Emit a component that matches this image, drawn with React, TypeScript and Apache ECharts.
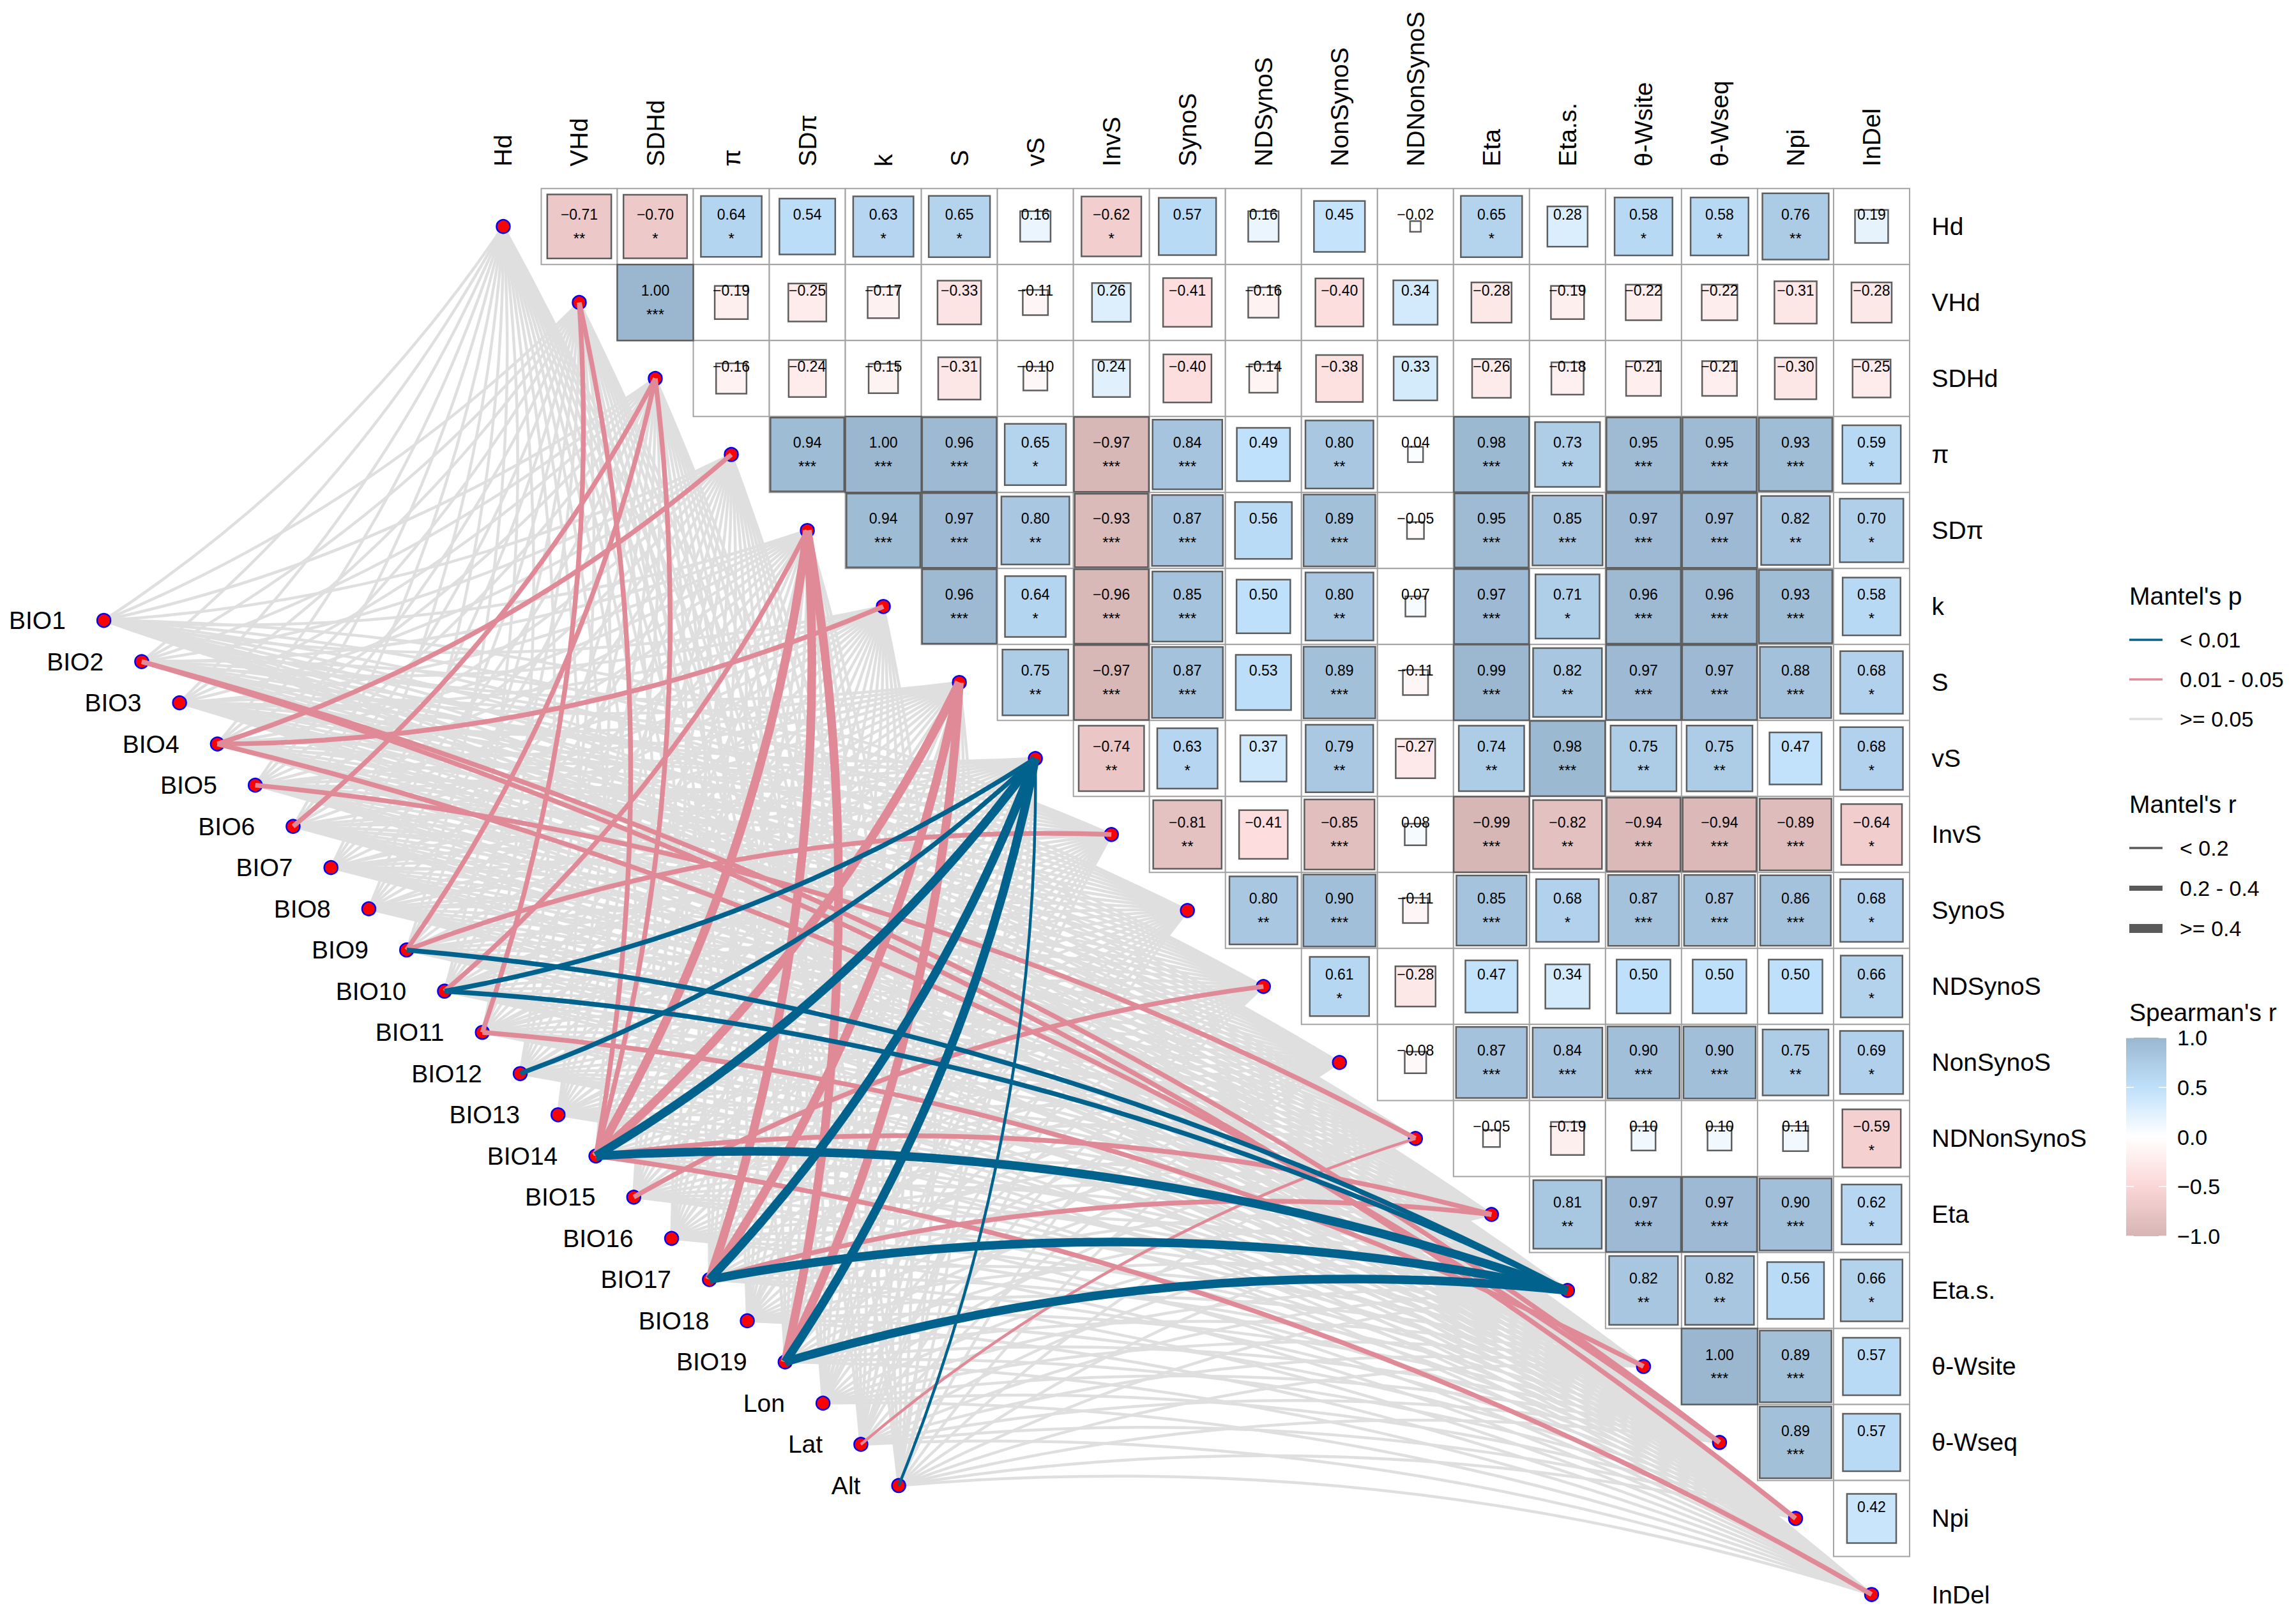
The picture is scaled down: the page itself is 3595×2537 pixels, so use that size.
import React, { useEffect, useRef } from "react";
import * as echarts from "echarts";

// ---------------- DATA ----------------
const variables = [
  "Hd", "VHd", "SDHd", "π", "SDπ", "k", "S", "vS", "InvS", "SynoS",
  "NDSynoS", "NonSynoS", "NDNonSynoS", "Eta", "Eta.s.", "θ-Wsite", "θ-Wseq", "Npi", "InDel",
];

const envVars = [
  "BIO1", "BIO2", "BIO3", "BIO4", "BIO5", "BIO6", "BIO7", "BIO8", "BIO9", "BIO10",
  "BIO11", "BIO12", "BIO13", "BIO14", "BIO15", "BIO16", "BIO17", "BIO18", "BIO19",
  "Lon", "Lat", "Alt",
];

// Spearman's r, upper triangle: row i holds columns i+1 .. 18
const corrUpper: number[][] = [
  [-0.71, -0.70, 0.64, 0.54, 0.63, 0.65, 0.16, -0.62, 0.57, 0.16, 0.45, -0.02, 0.65, 0.28, 0.58, 0.58, 0.76, 0.19],
  [1.00, -0.19, -0.25, -0.17, -0.33, -0.11, 0.26, -0.41, -0.16, -0.40, 0.34, -0.28, -0.19, -0.22, -0.22, -0.31, -0.28],
  [-0.16, -0.24, -0.15, -0.31, -0.10, 0.24, -0.40, -0.14, -0.38, 0.33, -0.26, -0.18, -0.21, -0.21, -0.30, -0.25],
  [0.94, 1.00, 0.96, 0.65, -0.97, 0.84, 0.49, 0.80, 0.04, 0.98, 0.73, 0.95, 0.95, 0.93, 0.59],
  [0.94, 0.97, 0.80, -0.93, 0.87, 0.56, 0.89, -0.05, 0.95, 0.85, 0.97, 0.97, 0.82, 0.70],
  [0.96, 0.64, -0.96, 0.85, 0.50, 0.80, 0.07, 0.97, 0.71, 0.96, 0.96, 0.93, 0.58],
  [0.75, -0.97, 0.87, 0.53, 0.89, -0.11, 0.99, 0.82, 0.97, 0.97, 0.88, 0.68],
  [-0.74, 0.63, 0.37, 0.79, -0.27, 0.74, 0.98, 0.75, 0.75, 0.47, 0.68],
  [-0.81, -0.41, -0.85, 0.08, -0.99, -0.82, -0.94, -0.94, -0.89, -0.64],
  [0.80, 0.90, -0.11, 0.85, 0.68, 0.87, 0.87, 0.86, 0.68],
  [0.61, -0.28, 0.47, 0.34, 0.50, 0.50, 0.50, 0.66],
  [-0.08, 0.87, 0.84, 0.90, 0.90, 0.75, 0.69],
  [-0.05, -0.19, 0.10, 0.10, 0.11, -0.59],
  [0.81, 0.97, 0.97, 0.90, 0.62],
  [0.82, 0.82, 0.56, 0.66],
  [1.00, 0.89, 0.57],
  [0.89, 0.57],
  [0.42],
];

const sigUpper: string[][] = [
  ["**", "*", "*", "", "*", "*", "", "*", "", "", "", "", "*", "", "*", "*", "**", ""],
  ["***", "", "", "", "", "", "", "", "", "", "", "", "", "", "", "", ""],
  ["", "", "", "", "", "", "", "", "", "", "", "", "", "", "", ""],
  ["***", "***", "***", "*", "***", "***", "", "**", "", "***", "**", "***", "***", "***", "*"],
  ["***", "***", "**", "***", "***", "", "***", "", "***", "***", "***", "***", "**", "*"],
  ["***", "*", "***", "***", "", "**", "", "***", "*", "***", "***", "***", "*"],
  ["**", "***", "***", "", "***", "", "***", "**", "***", "***", "***", "*"],
  ["**", "*", "", "**", "", "**", "***", "**", "**", "", "*"],
  ["**", "", "***", "", "***", "**", "***", "***", "***", "*"],
  ["**", "***", "", "***", "*", "***", "***", "***", "*"],
  ["*", "", "", "", "", "", "", "*"],
  ["", "***", "***", "***", "***", "**", "*"],
  ["", "", "", "", "", "*"],
  ["**", "***", "***", "***", "*"],
  ["**", "**", "", "*"],
  ["***", "***", ""],
  ["***", ""],
  [""],
];

// Mantel tests: [env, target, Mantel's r class] (0: "< 0.2", 1: "0.2 - 0.4", 2: ">= 0.4")
const mantelPLt001: [string, string, number][] = [
  ["BIO9", "Eta.s.", 1],
  ["BIO10", "vS", 1],
  ["BIO10", "Eta.s.", 1],
  ["BIO12", "vS", 1],
  ["BIO14", "vS", 2],
  ["BIO14", "Eta.s.", 2],
  ["BIO17", "vS", 2],
  ["BIO17", "Eta.s.", 2],
  ["BIO19", "vS", 2],
  ["BIO19", "Eta.s.", 2],
  ["Alt", "vS", 0],
];

const mantelP001to005: [string, string, number][] = [
  ["BIO2", "θ-Wseq", 1],
  ["BIO2", "Npi", 1],
  ["BIO4", "π", 1],
  ["BIO4", "k", 1],
  ["BIO4", "θ-Wseq", 1],
  ["BIO5", "NDNonSynoS", 1],
  ["BIO6", "SDHd", 1],
  ["BIO9", "SDHd", 1],
  ["BIO9", "InvS", 1],
  ["BIO10", "SDπ", 1],
  ["BIO11", "VHd", 1],
  ["BIO11", "θ-Wsite", 1],
  ["BIO14", "VHd", 1],
  ["BIO14", "SDHd", 1],
  ["BIO14", "SDπ", 2],
  ["BIO14", "S", 2],
  ["BIO14", "Eta", 1],
  ["BIO14", "InDel", 1],
  ["BIO15", "NDSynoS", 1],
  ["BIO17", "SDπ", 2],
  ["BIO17", "S", 2],
  ["BIO17", "Eta", 1],
  ["BIO19", "SDπ", 2],
  ["BIO19", "S", 2],
  ["Lat", "NDNonSynoS", 0],
];

const pLevels = ["< 0.01", "0.01 - 0.05", ">= 0.05"];
const rLevels = ["< 0.2", "0.2 - 0.4", ">= 0.4"];
const colorbarTicks = [1.0, 0.5, 0.0, -0.5, -1.0];

// ---------------- LAYOUT / STYLE ----------------
const W = 3595;
const H = 2537;
const X_MIN = -6.62;
const X_MAX = 23.583;
const Y_MIN = -2.98;
const Y_MAX = 18.336;
const ENV_X0 = -5.254;
const ENV_Y0 = 5.183;
const ENV_DX = 0.4979;
const ENV_DY = 0.5421;
const CURV = 0.1;
const CURV_SPLIT = 7; // targets up to this row bend one way, later rows the other
const FONT = '"Liberation Sans", Arial, Helvetica, sans-serif';
const P_COLORS = ["#01638D", "#E08A97", "#DFDFDF"];
const R_WIDTHS = [4.5, 7.5, 13.5];
const LEGEND_R_WIDTHS = [3.5, 8, 14];

const STOPS: [number, number[]][] = [
  [-1, [214, 181, 181]],
  [-0.5, [252, 214, 214]],
  [0, [255, 255, 255]],
  [0.5, [190, 224, 251]],
  [1, [155, 183, 208]],
];

function fillColor(r: number): string {
  const v = Math.max(-1, Math.min(1, r));
  for (let k = 0; k < STOPS.length - 1; k++) {
    const [a, ca] = STOPS[k];
    const [b, cb] = STOPS[k + 1];
    if (v >= a && v <= b) {
      const t = (v - a) / (b - a);
      const c = ca.map((x, q) => Math.round(x + (cb[q] - x) * t));
      return `rgb(${c[0]},${c[1]},${c[2]})`;
    }
  }
  return "#fff";
}

function fmt(r: number): string {
  return (r < 0 ? "\u2212" : "") + Math.abs(r).toFixed(2);
}

function envPos(i: number): [number, number] {
  return [ENV_X0 + i * ENV_DX, ENV_Y0 + i * ENV_DY];
}

function buildOption(): any {
  const cells: number[][] = [];
  const cellSig: string[] = [];
  corrUpper.forEach((row, i) => {
    row.forEach((r, k) => {
      cells.push([i + 1 + k, i, r]);
      cellSig.push(sigUpper[i][k]);
    });
  });

  const sigKey = new Set<string>();
  mantelPLt001.forEach(([e, t]) => sigKey.add(e + "|" + t));
  mantelP001to005.forEach(([e, t]) => sigKey.add(e + "|" + t));

  const link = (e: string, t: string, rc: number, color: string) => {
    const ei = envVars.indexOf(e);
    const ti = variables.indexOf(t);
    return {
      coords: [envPos(ei), [ti, ti]],
      lineStyle: { color, width: R_WIDTHS[rc], curveness: ti <= CURV_SPLIT ? -CURV : CURV },
    };
  };

  const grayData: any[] = [];
  envVars.forEach((e) => {
    variables.forEach((t) => {
      if (!sigKey.has(e + "|" + t)) grayData.push(link(e, t, 0, P_COLORS[2]));
    });
  });
  const pinkData = mantelP001to005.map(([e, t, rc]) => link(e, t, rc, P_COLORS[1]));
  const blueData = mantelPLt001.map(([e, t, rc]) => link(e, t, rc, P_COLORS[0]));

  const linesBase = {
    type: "lines",
    coordinateSystem: "cartesian2d",
    polyline: false,
    large: false,
    progressive: 0,
    silent: true,
    effect: { show: false },
    symbol: ["none", "none"],
  };

  const LX = 3334;
  const LBX = 3413;
  const g: any[] = [];
  const title = (text: string, y: number) =>
    g.push({
      type: "text",
      x: LX,
      y,
      style: { text, font: `39px ${FONT}`, fill: "#000", align: "left", verticalAlign: "middle", textAlign: "left", textVerticalAlign: "middle" },
    });
  const label = (text: string, x: number, y: number) =>
    g.push({
      type: "text",
      x,
      y,
      style: { text, font: `34px ${FONT}`, fill: "#000", align: "left", verticalAlign: "middle", textAlign: "left", textVerticalAlign: "middle" },
    });

  title("Mantel's p", 933);
  [1002, 1064, 1126].forEach((y, k) => {
    g.push({ type: "line", shape: { x1: LX, y1: y, x2: LX + 52, y2: y }, style: { stroke: P_COLORS[k], lineWidth: 3.5 } });
    label(pLevels[k], LBX, y);
  });
  title("Mantel's r", 1259);
  [1328, 1391, 1454].forEach((y, k) => {
    g.push({ type: "line", shape: { x1: LX, y1: y, x2: LX + 52, y2: y }, style: { stroke: "#5A5A5A", lineWidth: LEGEND_R_WIDTHS[k] } });
    label(rLevels[k], LBX, y);
  });
  title("Spearman's r", 1585);
  const barTop = 1625;
  const barBot = 1936;
  const barX = 3329;
  const barW = 63;
  const gStops: any[] = [];
  for (let k = 0; k <= 40; k++) {
    const v = 1 - (2 * k) / 40;
    gStops.push({ offset: k / 40, color: fillColor(v) });
  }
  g.push({
    type: "rect",
    shape: { x: barX, y: barTop, width: barW, height: barBot - barTop },
    style: { fill: new echarts.graphic.LinearGradient(0, 0, 0, 1, gStops) },
  });
  colorbarTicks.forEach((v) => {
    const y = barTop + ((1 - v) / 2) * (barBot - barTop);
    g.push({ type: "line", shape: { x1: barX, y1: y, x2: barX + 12, y2: y }, style: { stroke: "#fff", lineWidth: 1.5 } });
    g.push({ type: "line", shape: { x1: barX + barW - 12, y1: y, x2: barX + barW, y2: y }, style: { stroke: "#fff", lineWidth: 1.5 } });
    label(v === 0 ? "0.0" : (v < 0 ? "\u2212" : "") + Math.abs(v).toFixed(1), 3409, y);
  });

  return {
    animation: false,
    backgroundColor: "#ffffff",
    grid: { left: 0, right: 0, top: 0, bottom: 0, containLabel: false },
    xAxis: { type: "value", min: X_MIN, max: X_MAX, show: false },
    yAxis: { type: "value", min: Y_MIN, max: Y_MAX, inverse: true, show: false },
    graphic: g,
    series: [
      {
        type: "custom",
        coordinateSystem: "cartesian2d",
        z: 1,
        silent: true,
        data: cells,
        encode: { x: 0, y: 1 },
        renderItem: (params: any, api: any) => {
          const j = api.value(0);
          const i = api.value(1);
          const r = api.value(2);
          const c = api.coord([j, i]);
          const s = api.size([1, 1]);
          const w = Math.abs(s[0]);
          const h = Math.abs(s[1]);
          const side = Math.sqrt(Math.abs(r));
          const sig = cellSig[params.dataIndex];
          const txt = (text: string, y: number, size: number) => ({
            type: "text",
            x: c[0],
            y,
            z2: 3,
            style: { text, font: `${size}px ${FONT}`, fill: "#000", align: "center", verticalAlign: "middle", textAlign: "center", textVerticalAlign: "middle" },
          });
          const children: any[] = [
            { type: "rect", z2: 0, shape: { x: c[0] - w / 2, y: c[1] - h / 2, width: w, height: h }, style: { fill: "#ffffff", stroke: "#A3A3A3", lineWidth: 2 } },
            { type: "rect", z2: 1, shape: { x: c[0] - (w * side) / 2, y: c[1] - (h * side) / 2, width: w * side, height: h * side }, style: { fill: fillColor(r), stroke: "#5E5E5E", lineWidth: 2.5 } },
            txt(fmt(r), c[1] - h * 0.155, 23),
          ];
          if (sig) children.push(txt(sig, c[1] + h * 0.155, 24));
          return { type: "group", children };
        },
      },
      {
        type: "custom",
        coordinateSystem: "cartesian2d",
        z: 6,
        silent: true,
        data: variables.map((_, j) => [j, -0.79]),
        encode: { x: 0, y: 1 },
        renderItem: (params: any, api: any) => {
          const c = api.coord([api.value(0), api.value(1)]);
          return {
            type: "text",
            x: c[0],
            y: c[1],
            rotation: Math.PI / 2,
            style: { text: variables[params.dataIndex], font: `39px ${FONT}`, fill: "#000", align: "left", verticalAlign: "middle", textAlign: "left", textVerticalAlign: "middle" },
          };
        },
      },
      {
        type: "custom",
        coordinateSystem: "cartesian2d",
        z: 6,
        silent: true,
        data: variables.map((_, i) => [18.79, i]),
        encode: { x: 0, y: 1 },
        renderItem: (params: any, api: any) => {
          const c = api.coord([api.value(0), api.value(1)]);
          return {
            type: "text",
            x: c[0],
            y: c[1],
            style: { text: variables[params.dataIndex], font: `39px ${FONT}`, fill: "#000", align: "left", verticalAlign: "middle", textAlign: "left", textVerticalAlign: "middle" },
          };
        },
      },
      { ...linesBase, z: 2, lineStyle: { color: P_COLORS[2], width: R_WIDTHS[0], opacity: 1 }, data: grayData },
      {
        type: "scatter",
        z: 3,
        silent: true,
        symbol: "circle",
        symbolSize: 21,
        itemStyle: { color: "#FF0000", borderColor: "#0000FF", borderWidth: 2.5, opacity: 1 },
        label: { show: true, position: "left", distance: 48, formatter: "{b}", fontSize: 39, color: "#000", fontFamily: FONT },
        data: envVars.map((n, i) => ({ name: n, value: envPos(i) })),
      },
      {
        type: "scatter",
        z: 3,
        silent: true,
        symbol: "circle",
        symbolSize: 21,
        itemStyle: { color: "#FF0000", borderColor: "#0000FF", borderWidth: 2.5, opacity: 1 },
        data: variables.map((_, j) => [j, j]),
      },
      { ...linesBase, z: 4, lineStyle: { color: P_COLORS[1], width: R_WIDTHS[1], opacity: 1 }, data: pinkData },
      { ...linesBase, z: 5, lineStyle: { color: P_COLORS[0], width: R_WIDTHS[1], opacity: 1 }, data: blueData },
    ],
  };
}

export default function App() {
  const ref = useRef<HTMLDivElement>(null);
  useEffect(() => {
    if (!ref.current) return;
    const chart = echarts.init(ref.current, null, { renderer: "svg", width: W, height: H });
    chart.setOption(buildOption());
    return () => chart.dispose();
  }, []);
  return (
    <div
      ref={ref}
      style={{ position: "fixed", left: 0, top: 0, width: W, height: H, background: "#fff" }}
    />
  );
}
